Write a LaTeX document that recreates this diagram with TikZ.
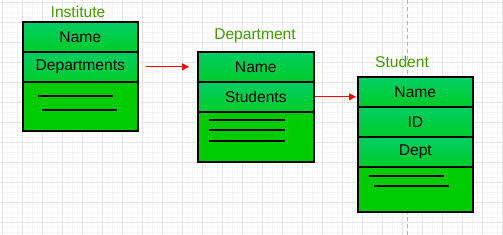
\documentclass[tikz,border=0pt]{standalone}
\usepackage{fontspec}
\setmainfont{Liberation Sans}
\usetikzlibrary{arrows.meta}
\definecolor{gtop}{RGB}{0,206,100}
\definecolor{gbot}{RGB}{0,204,40}
\definecolor{gflat}{RGB}{0,204,0}
\definecolor{ttl}{RGB}{70,154,0}
\definecolor{gmaj}{RGB}{228,228,228}
\definecolor{gmin}{RGB}{246,246,246}
\tikzset{
  sec/.style={draw=black, line width=1.6pt, top color=gtop, bottom color=gbot,
    minimum width=#1, minimum height=30pt, inner sep=0pt, anchor=north west,
    font=\fontsize{15.6}{17}\selectfont, text=black},
  body/.style={draw=black, line width=1.6pt, fill=gflat, inner sep=0pt, anchor=north west},
  ttlstyle/.style={font=\fontsize{15.6}{17}\selectfont, text=ttl, inner sep=0pt},
  bar/.style={line width=1.3pt, black},
  link/.style={draw=red, line width=1pt, -{Triangle[length=7pt,width=7pt]}}
}
\begin{document}
\begin{tikzpicture}[x=1pt,y=-1pt]
\useasboundingbox (0,0) rectangle (503,235);
\fill[white] (0,0) rectangle (503,235);
% minor grid
\foreach \i in {0,5,...,500} \draw[gmin, line width=0.5pt] (\i+2,0) -- (\i+2,235);
\foreach \j in {0,5,...,235} \draw[gmin, line width=0.5pt] (0,\j+2) -- (503,\j+2);
% major grid
\foreach \i in {0,20,...,500} \draw[gmaj, line width=0.8pt] (\i+2,0) -- (\i+2,235);
\foreach \j in {0,20,...,220} \draw[gmaj, line width=0.8pt] (0,\j+2) -- (503,\j+2);
% dashed guide
\draw[gray!60, line width=0.8pt, dash pattern=on 4pt off 3pt] (407,0) -- (407,235);

% Institute
\node[ttlstyle] (tinst) at (78,12) {Institute};
\node[body, minimum width=115pt, minimum height=49pt] (ibody) at (22,81) {};
\node[sec=115pt] (iname) at (22,21) {Name};
\node[sec=115pt] (idep) at (22,51) {Departments};
\draw[bar] (38,96) -- (113,96);
\draw[bar] (42,110) -- (117,110);

% Department
\node[ttlstyle] (tdep) at (255,36) {Department};
\node[body, minimum width=116pt, minimum height=50pt] (dbody) at (197,111) {};
\node[sec=116pt] (dname) at (197,51) {Name};
\node[sec=116pt] (dstud) at (197,81) {Students};
\draw[bar] (209,120) -- (285,120);
\draw[bar] (209,130) -- (285,130);
\draw[bar] (209,141) -- (285,141);

% Student
\node[ttlstyle] (tstu) at (402,62) {Student};
\node[body, minimum width=115pt, minimum height=45pt] (sbody) at (357,166) {};
\node[sec=115pt] (sname) at (357,76) {Name};
\node[sec=115pt] (sid) at (357,106) {ID};
\node[sec=115pt] (sdept) at (357,136) {Dept};
\draw[bar] (369,176) -- (444,176);
\draw[bar] (374,186) -- (449,186);

% connectors
\draw[link, shorten <=7pt, shorten >=8pt] (idep.east) -- (dname.west);
\draw[link, shorten >=1pt] (dstud.east) -- (dstud.east -| sname.west);
\end{tikzpicture}
\end{document}
